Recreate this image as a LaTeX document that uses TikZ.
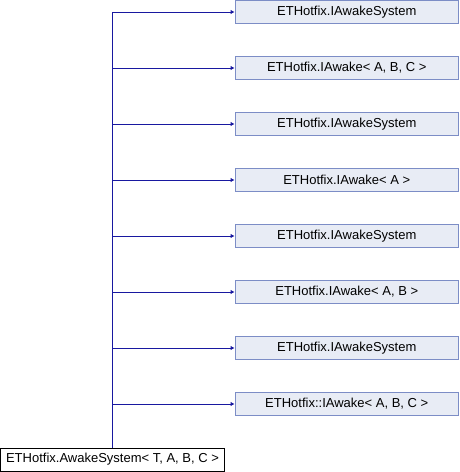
\documentclass[tikz,border=0pt]{standalone}
\usepackage{fontspec}
\setmainfont{Liberation Sans}
\usetikzlibrary{arrows.meta}
\definecolor{edgeblue}{RGB}{24,24,160}
\definecolor{boxfill}{RGB}{232,236,245}
\definecolor{boxline}{RGB}{124,141,198}
\begin{document}
\begin{tikzpicture}[x=1pt,y=1pt,
  base/.style={draw=black,fill=white,line width=0.8pt,minimum width=224pt,minimum height=23pt,inner sep=0pt,font=\fontsize{13}{15}\selectfont},
  iface/.style={draw=boxline,fill=boxfill,line width=0.8pt,minimum width=223.5pt,minimum height=23pt,inner sep=0pt,font=\fontsize{13}{15}\selectfont},
  inh/.style={draw=edgeblue,line width=0.8pt,-{Latex[length=4pt,width=4.5pt]}}]
\useasboundingbox (0,0) rectangle (460,472);
\node[base] (b) at (112.5,12.5) {ETHotfix.AwakeSystem< T, A, B, C >};
\node[iface] (t1) at (346.75,460) {ETHotfix.IAwakeSystem};
\node[iface] (t2) at (346.75,404) {ETHotfix.IAwake< A, B, C >};
\node[iface] (t3) at (346.75,348) {ETHotfix.IAwakeSystem};
\node[iface] (t4) at (346.75,292) {ETHotfix.IAwake< A >};
\node[iface] (t5) at (346.75,236) {ETHotfix.IAwakeSystem};
\node[iface] (t6) at (346.75,180) {ETHotfix.IAwake< A, B >};
\node[iface] (t7) at (346.75,124) {ETHotfix.IAwakeSystem};
\node[iface] (t8) at (346.75,68) {ETHotfix::IAwake< A, B, C >};
\foreach \t in {t1,t2,t3,t4,t5,t6,t7,t8}
  \draw[inh] (b.north) |- (\t.west);
\end{tikzpicture}
\end{document}
